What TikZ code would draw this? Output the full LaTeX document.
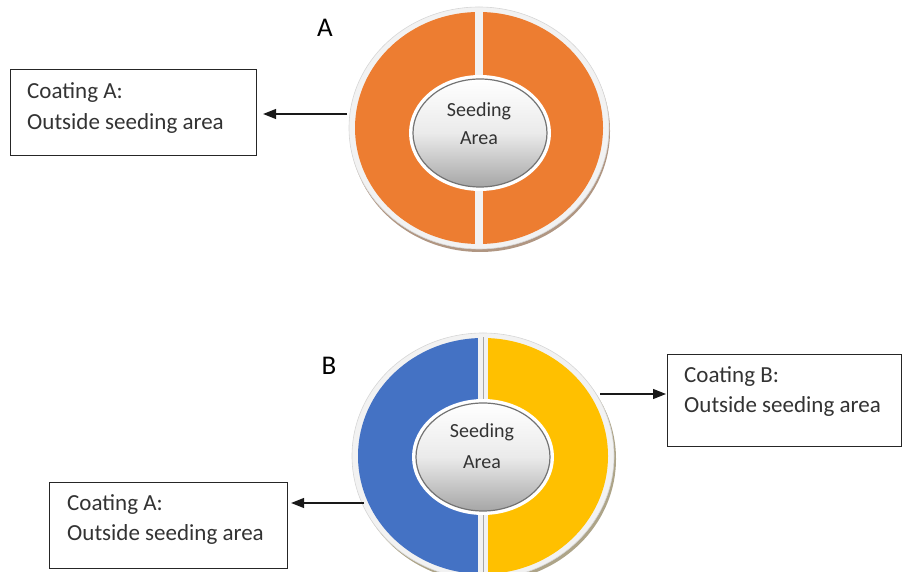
\documentclass[tikz,border=0pt]{standalone}
\usepackage{fontspec}
\setmainfont{Carlito}
\usetikzlibrary{arrows.meta,shapes.geometric}
\definecolor{orng}{HTML}{ED7D31}
\definecolor{blu}{HTML}{4472C4}
\definecolor{yel}{HTML}{FFC000}
\definecolor{rim}{HTML}{F2F2F2}
\definecolor{rimline}{HTML}{D6D6D6}
\definecolor{shadA}{HTML}{B09682}
\definecolor{shadB}{HTML}{ADA488}
\definecolor{txt}{HTML}{333333}
\begin{document}
\begin{tikzpicture}[x=1pt,y=1pt,
  box/.style={draw=black!85, line width=1.1pt, fill=white, inner sep=0pt, anchor=north west},
  boxtext/.style={anchor=base west, inner sep=0pt, text=txt, font=\fontsize{23}{28}\selectfont},
  seedtext/.style={anchor=base, inner sep=0pt, text=txt, font=\fontsize{20}{24}\selectfont},
  letter/.style={anchor=base, inner sep=0pt, text=black, font=\fontsize{27}{30}\selectfont},
  inner/.style={ellipse, draw=black!55, line width=1.2pt, top color=white, bottom color=black!35, middle color=black!8, inner sep=0pt, minimum width=134pt, minimum height=108pt},
  innerrim/.style={ellipse, draw=white, line width=4pt, inner sep=0pt, minimum width=138pt, minimum height=112pt},
  conn/.style={draw=black!90, line width=1.2pt, -{Triangle[length=13pt,width=10pt]}}
]
\useasboundingbox (0,0) rectangle (902,572);

% ---------- Disc A ----------
\fill[shadA] (480,441) ellipse [x radius=130, y radius=121];
\fill[rim] (479,444) ellipse [x radius=130, y radius=121];
\draw[rimline, line width=0.6pt] (479,444) ellipse [x radius=130, y radius=121];
\fill[orng] (479,444) ellipse [x radius=124, y radius=116];
\fill[rim] (475,325) rectangle (483,563);
\node[innerrim] (rimA) at (480,439) {};
\node[inner] (innerA) at (480,439) {};
\node[seedtext] (sA1) at (479,455) {Seeding};
\node[seedtext] (sA2) at (479,427) {Area};
\node[letter] (labA) at (325,535) {A};

% ---------- Disc B ----------
\fill[shadB] (485,113) ellipse [x radius=131, y radius=123];
\fill[rim] (483,116) ellipse [x radius=131, y radius=123];
\draw[rimline, line width=0.6pt] (483,116) ellipse [x radius=131, y radius=123];
\begin{scope}
  \clip (483,116) ellipse [x radius=125, y radius=118];
  \fill[blu] (350,-10) rectangle (478,240);
  \fill[yel] (488,-10) rectangle (620,240);
\end{scope}
\fill[rim] (478,-5) rectangle (488,238);
\draw[black!35, line width=0.8pt] (483,-5) -- (483,235);
\node[innerrim] (rimB) at (483,115) {};
\node[inner] (innerB) at (483,115) {};
\node[seedtext] (sB1) at (482,134) {Seeding};
\node[seedtext] (sB2) at (482,103) {Area};
\node[letter] (labB) at (329,197) {B};

% ---------- Boxes ----------
\node[box, minimum width=246pt, minimum height=86pt] (boxA) at (10,503) {};
\node[boxtext] (tA1) at (27,473) {Coating A:};
\node[boxtext] (tA2) at (27,442) {Outside seeding area};

\node[box, minimum width=234pt, minimum height=92pt] (boxB) at (667,218) {};
\node[boxtext] (tB1) at (684,189) {Coating B:};
\node[boxtext] (tB2) at (684,159) {Outside seeding area};

\node[box, minimum width=238pt, minimum height=86pt] (boxC) at (49,90) {};
\node[boxtext] (tC1) at (67,61) {Coating A:};
\node[boxtext] (tC2) at (67,31) {Outside seeding area};

% ---------- Connectors ----------
\coordinate (srcA) at (347,458);
\coordinate (srcB) at (600,178);
\coordinate (srcC) at (364,69);
\draw[conn, shorten >=6pt] (srcA) -- (srcA -| boxA.east);
\draw[conn, shorten >=1pt] (srcB) -- (srcB -| boxB.west);
\draw[conn, shorten >=3pt] (srcC) -- (srcC -| boxC.east);
\end{tikzpicture}
\end{document}
